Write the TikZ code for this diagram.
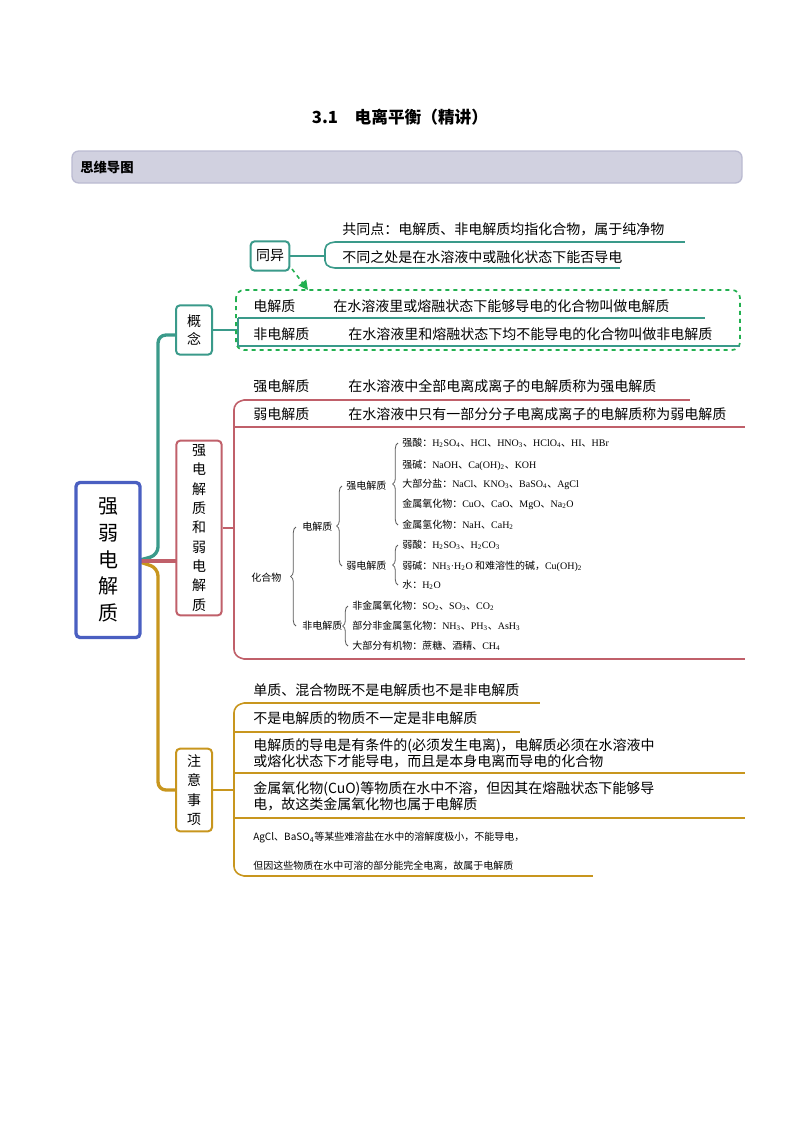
\documentclass[tikz,border=0pt]{standalone}
\usepackage{fontspec}
\setmainfont{Noto Sans CJK SC}
\newfontfamily\chemf{Liberation Serif}
\usetikzlibrary{decorations.pathreplacing,arrows.meta}
\newcommand{\sub}[1]{\textsubscript{#1}}
\newcommand{\dn}{{\normalfont 、}}
\definecolor{teal1}{HTML}{3A9A8A}
\definecolor{red1}{HTML}{C0606A}
\definecolor{gold1}{HTML}{C8961E}
\definecolor{blue1}{HTML}{4A5FC1}
\definecolor{green1}{HTML}{22B050}
\tikzset{
 every node/.style={inner sep=0pt},
 t/.style={anchor=west,font=\fontsize{10.5}{12}\selectfont},
 tt/.style={anchor=west,font=\fontsize{7.5}{9}\selectfont},
 box/.style={draw,rounded corners=3pt,line width=1.5pt,fill=white,align=center,inner sep=3pt},
 ul/.style={line width=1.2pt},
 br/.style={decorate,decoration={brace,amplitude=4pt,mirror},line width=0.6pt,gray!70!black}
}
\begin{document}
\begin{tikzpicture}[x=0.75pt,y=-0.75pt]
\useasboundingbox (0,0) rectangle (800,1132);
\node[font=\bfseries\fontsize{12.5}{14}\selectfont] (title) at (400,117) {3.1\quad 电离平衡（精讲）};
\draw[rounded corners=5pt,fill=blue!20!gray!30,draw=blue!20!gray!45,line width=1pt] (72,151) rectangle (742,183);
\node[anchor=west,font=\bfseries\fontsize{10}{12}\selectfont] (hdr) at (80,167) {思维导图};
% central trunks
\draw[teal1,line width=2.5pt,rounded corners=6pt] (140,560) -- (158,555) -- (158,335) -- (176,335);
\draw[gold1,line width=2.5pt,rounded corners=6pt] (140,562) -- (158,568) -- (158,790) -- (176,790);
\draw[red1,line width=2.5pt] (140,561) -- (176,561);
\node[box,draw=blue1,line width=2.5pt,minimum width=64pt*0.75,minimum height=155pt*0.75,font=\fontsize{15}{20}\selectfont] (c) at (108,560) {强\\弱\\电\\解\\质};
% 概念
\node[box,draw=teal1,minimum width=27pt,minimum height=37pt,font=\fontsize{10.5}{14}\selectfont] (gn) at (194,330) {概\\念};
\draw[teal1,line width=1.2pt] (gn.east) -- (238,330);
\draw[teal1,line width=1.2pt] (238,318) -- (238,346);
\node[box,draw=teal1,minimum width=29pt,minimum height=22pt,font=\fontsize{10.5}{12}\selectfont] (ty) at (270,256) {同异};
\draw[teal1,line width=1.2pt] (ty.east) -- (325,256);
\draw[teal1,line width=1.2pt,rounded corners=4pt] (335,242) -- (325,244) -- (325,266) -- (335,268);
\draw[teal1,ul] (335,242) -- (685,242);
\draw[teal1,ul] (335,268) -- (620,268);
\node[t] (a1) at (342,229) {共同点：电解质、非电解质均指化合物，属于纯净物};
\node[t] (a2) at (342,257) {不同之处是在水溶液中或融化状态下能否导电};
\coordinate (arrS) at (292,269);
\draw[green1,dashed,line width=1.2pt,-{Triangle[length=7pt,width=7pt]}] (arrS) -- (308,290);
\draw[green1,dashed,line width=1.3pt,rounded corners=6pt] (236,290) rectangle (740,350);
\draw[teal1,ul] (238,318) -- (705,318);
\draw[teal1,ul] (238,346) -- (740,346);
\node[t] (b1) at (253,306) {电解质};
\node[t] (b1d) at (333,306) {在水溶液里或熔融状态下能够导电的化合物叫做电解质};
\node[t] (b2) at (253,334) {非电解质};
\node[t] (b2d) at (348,334) {在水溶液里和熔融状态下均不能导电的化合物叫做非电解质};
% 强弱电解质
\node[box,draw=red1,minimum width=34pt,minimum height=125pt,font=\fontsize{10.5}{14.5}\selectfont] (qr) at (199,528) {强\\电\\解\\质\\和\\弱\\电\\解\\质};
\draw[red1,line width=1.2pt] (qr.east) -- (234,528);
\draw[red1,line width=1.2pt,rounded corners=5pt] (244,400) -- (234,403) -- (234,656) -- (244,659);
\draw[red1,ul] (244,400) -- (690,400);
\draw[red1,ul] (234,427) -- (745,427);
\draw[red1,ul] (244,659) -- (745,659);
\node[t] (s1) at (253,386) {强电解质};
\node[t] (s1d) at (348,386) {在水溶液中全部电离成离子的电解质称为强电解质};
\node[t] (s2) at (253,414) {弱电解质};
\node[t] (s2d) at (348,414) {在水溶液中只有一部分分子电离成离子的电解质称为弱电解质};
% tree
\begin{scope}[every node/.append style={tt}]
\node (h) at (251,578) {化合物};
\node (e) at (302,527) {电解质};
\node (ne) at (302,626) {非电解质};
\node (se) at (346,486) {强电解质};
\node (we) at (346,566) {弱电解质};
\node (i1) at (402,443) {强酸：{\chemf H\sub{2}SO\sub{4}\dn HCl\dn HNO\sub{3}\dn HClO\sub{4}\dn HI\dn HBr}};
\node (i2) at (402,465) {强碱：{\chemf NaOH\dn Ca(OH)\sub{2}\dn KOH}};
\node (i3) at (402,484) {大部分盐：{\chemf NaCl\dn KNO\sub{3}\dn BaSO\sub{4}\dn AgCl}};
\node (i4) at (402,504) {金属氧化物：{\chemf CuO\dn CaO\dn MgO\dn Na\sub{2}O}};
\node (i5) at (402,525) {金属氢化物：{\chemf NaH\dn CaH\sub{2}}};
\node (j1) at (402,545) {弱酸：{\chemf H\sub{2}SO\sub{3}\dn H\sub{2}CO\sub{3}}};
\node (j2) at (402,566) {弱碱：{\chemf NH\sub{3}·H\sub{2}O} 和难溶性的碱，{\chemf Cu(OH)\sub{2}}};
\node (j3) at (402,585) {水：{\chemf H\sub{2}O}};
\node (k1) at (352,606) {非金属氧化物：{\chemf SO\sub{2}\dn SO\sub{3}\dn CO\sub{2}}};
\node (k2) at (352,626) {部分非金属氢化物：{\chemf NH\sub{3}\dn PH\sub{3}\dn AsH\sub{3}}};
\node (k3) at (352,646) {大部分有机物：蔗糖、酒精、{\chemf CH\sub{4}}};
\end{scope}
\draw[br] (296,527) -- (296,626);
\draw[br] (342,486) -- (342,566);
\draw[br] (398,443) -- (398,525);
\draw[br] (398,545) -- (398,585);
\draw[br] (348,606) -- (348,646);
% 注意事项
\node[box,draw=gold1,minimum width=27pt,minimum height=62pt,font=\fontsize{10.5}{14.5}\selectfont] (zy) at (194,790) {注\\意\\事\\项};
\draw[gold1,line width=1.2pt] (zy.east) -- (234,790);
\draw[gold1,line width=1.2pt,rounded corners=5pt] (244,703) -- (234,706) -- (234,873) -- (244,876);
\draw[gold1,ul] (244,703) -- (540,703);
\draw[gold1,ul] (234,732) -- (520,732);
\draw[gold1,ul] (234,773) -- (745,773);
\draw[gold1,ul] (234,818) -- (745,818);
\draw[gold1,ul] (244,876) -- (593,876);
\node[t] (n1) at (253,690) {单质、混合物既不是电解质也不是非电解质};
\node[t] (n2) at (253,718) {不是电解质的物质不一定是非电解质};
\node[t,align=left] (n3) at (253,753) {电解质的导电是有条件的(必须发生电离)，电解质必须在水溶液中\\或熔化状态下才能导电，而且是本身电离而导电的化合物};
\node[t,align=left] (n4) at (253,796) {金属氧化物(CuO)等物质在水中不溶，但因其在熔融状态下能够导\\电，故这类金属氧化物也属于电解质};
\node[tt] (n5) at (253,838) {AgCl、BaSO\sub{4}等某些难溶盐在水中的溶解度极小，不能导电，};
\node[tt] (n6) at (253,866) {但因这些物质在水中可溶的部分能完全电离，故属于电解质};
\end{tikzpicture}
\end{document}
